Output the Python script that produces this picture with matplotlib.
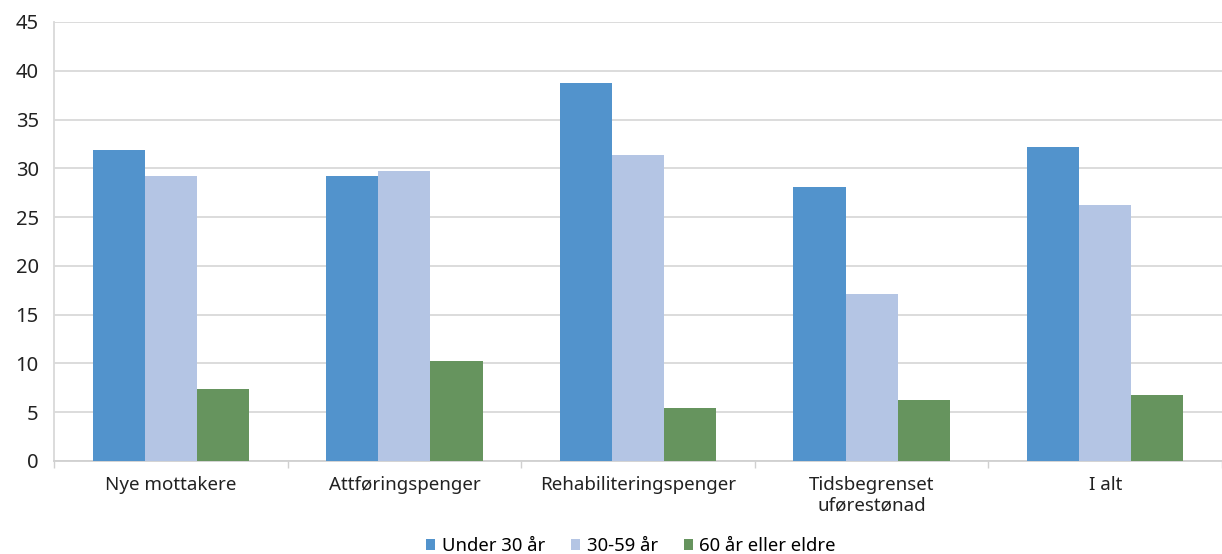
import matplotlib
matplotlib.use("Agg")
import matplotlib.pyplot as plt
import numpy as np
from matplotlib.patches import Patch

categories = ["Nye mottakere", "Attføringspenger", "Rehabiliteringspenger",
              "Tidsbegrenset\nuførestønad", "I alt"]
series_names = ["Under 30 år", "30-59 år", "60 år eller eldre"]
under30 = [31.9, 29.2, 38.7, 28.1, 32.2]
age30_59 = [29.2, 29.7, 31.4, 17.1, 26.2]
age60 = [7.35, 10.3, 5.4, 6.25, 6.75]
yticks = [0, 5, 10, 15, 20, 25, 30, 35, 40, 45]

colors = ["#5293CC", "#B4C5E4", "#66945E"]

plt.rcParams['font.family'] = ['Noto Sans', 'DejaVu Sans']

W, H = 1222, 554
fig = plt.figure(figsize=(W / 100, H / 100), dpi=100)
left_px, right_px, top_px, bot_px = 54, 1222, 22, 461
ax = fig.add_axes([left_px / W, 1 - bot_px / H, (right_px - left_px) / W, (bot_px - top_px) / H])

x = np.arange(len(categories))
bw = 0.223
for i, (vals, c) in enumerate(zip([under30, age30_59, age60], colors)):
    ax.bar(x + (i - 1) * bw, vals, width=bw, color=c, edgecolor='none', zorder=3)

ax.set_xlim(-0.5, 4.454)
ax.set_ylim(0, 45)
ax.set_yticks(yticks)
ax.set_yticklabels([str(t) for t in yticks], fontsize=14.5, color='#222222')
ax.yaxis.grid(True, color='#d9d9d9', linewidth=1.3, zorder=0)
ax.tick_params(axis='y', length=0, pad=11)

ax.set_xticks(x)
ax.set_xticklabels(categories, fontsize=13.5, color='#222222', linespacing=1.2)
ax.tick_params(axis='x', which='major', length=0, pad=11)
ax.set_xticks(np.arange(len(categories) + 1) - 0.5, minor=True)
ax.tick_params(axis='x', which='minor', length=5, color='#d0d0d0', width=1)

for s in ['top', 'right']:
    ax.spines[s].set_visible(False)
ax.spines['left'].set_color('#d9d9d9')
ax.spines['bottom'].set_color('#d0d0d0')
ax.spines['left'].set_linewidth(1.3)
ax.spines['bottom'].set_linewidth(1.3)

handles = [Patch(facecolor=c, edgecolor='none') for c in colors]
fig.legend(handles, series_names, loc='center', bbox_to_anchor=(631 / W, 1 - 546 / H),
           ncol=3, frameon=False, fontsize=13.3, handlelength=0.5, handleheight=0.5,
           handletextpad=0.35, columnspacing=1.4, borderaxespad=0, borderpad=0)

fig.savefig("out.png", dpi=100)
